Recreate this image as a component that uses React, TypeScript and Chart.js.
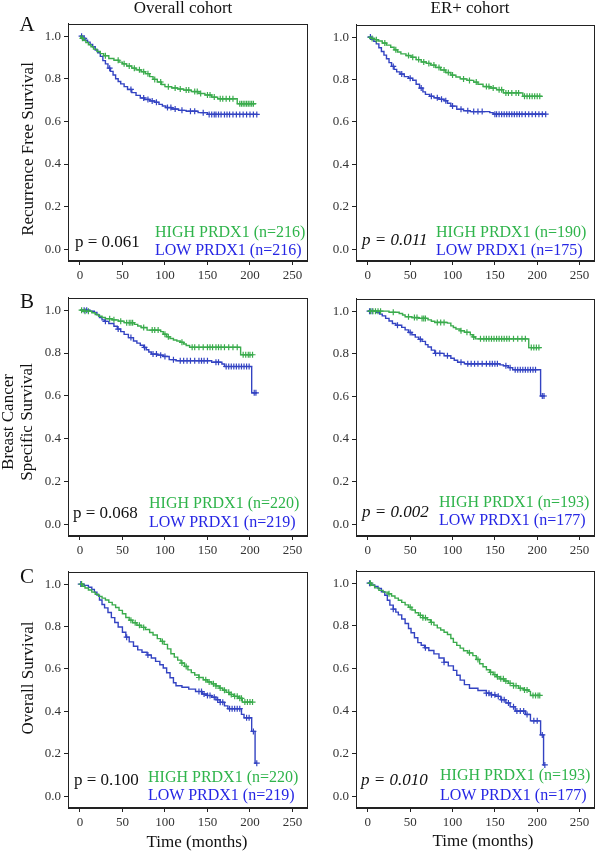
import React, { useEffect, useRef } from 'react';
import { Chart, registerables } from 'chart.js';
Chart.register(...registerables);

// ---------- axes ----------
const X_TICKS = [0, 50, 100, 150, 200, 250];
const Y_TICKS = [0, 0.2, 0.4, 0.6, 0.8, 1.0];
const X_MIN = -14;
const X_MAX = 268;
const Y_MIN = -0.055;
const Y_MAX = 1.058;

// ---------- labels ----------
const COLUMN_TITLES = ['Overall cohort', 'ER+ cohort'];
const ROW_LETTERS = ['A', 'B', 'C'];
const X_TITLE = 'Time (months)';
const P_VALUES = [['p = 0.061', 'p = 0.011'], ['p = 0.068', 'p = 0.002'], ['p = 0.100', 'p = 0.010']];
const HIGH_LABELS = [['HIGH PRDX1 (n=216)', 'HIGH PRDX1 (n=190)'], ['HIGH PRDX1 (n=220)', 'HIGH PRDX1 (n=193)'], ['HIGH PRDX1 (n=220)', 'HIGH PRDX1 (n=193)']];
const LOW_LABELS = [['LOW PRDX1 (n=216)', 'LOW PRDX1 (n=175)'], ['LOW PRDX1 (n=219)', 'LOW PRDX1 (n=177)'], ['LOW PRDX1 (n=219)', 'LOW PRDX1 (n=177)']];

// ---------- A: Recurrence free survival, overall ----------
const RFS_ALL_HIGH_T = [0, 1, 4, 7, 10, 13, 16, 20, 24, 28, 34, 40, 46, 50, 55, 61, 66, 72, 77, 82, 86, 91, 96, 100, 108, 115, 122, 131, 140, 147, 155, 162, 185, 207];
const RFS_ALL_HIGH_S = [1.0, 0.99, 0.98, 0.97, 0.96, 0.95, 0.939, 0.928, 0.918, 0.908, 0.895, 0.887, 0.878, 0.87, 0.86, 0.85, 0.842, 0.833, 0.824, 0.81, 0.797, 0.785, 0.773, 0.763, 0.757, 0.752, 0.747, 0.74, 0.731, 0.724, 0.714, 0.706, 0.683, 0.683];
const RFS_ALL_HIGH_C = [3, 30, 45, 52, 58, 64, 70, 75, 80, 88, 95, 104, 112, 118, 125, 128, 135, 138, 142, 150, 153, 158, 165, 168, 172, 176, 180, 188, 190, 192, 194, 196, 198, 200, 202, 204];
const RFS_ALL_LOW_T = [0, 3, 6, 9, 12, 15, 18, 21, 24, 27, 30, 33, 36, 39, 42, 45, 48, 52, 56, 61, 66, 71, 76, 82, 88, 93, 97, 101, 108, 116, 125, 139, 150, 209];
const RFS_ALL_LOW_S = [1.0, 0.99, 0.981, 0.972, 0.961, 0.95, 0.935, 0.922, 0.905, 0.885, 0.87, 0.85, 0.835, 0.818, 0.8, 0.787, 0.776, 0.763, 0.75, 0.735, 0.722, 0.71, 0.703, 0.696, 0.69, 0.68, 0.672, 0.665, 0.658, 0.652, 0.648, 0.641, 0.633, 0.633];
const RFS_ALL_LOW_C = [2, 5, 35, 60, 75, 80, 85, 90, 103, 107, 112, 120, 130, 135, 145, 152, 155, 158, 160, 163, 166, 170, 173, 176, 180, 184, 188, 192, 196, 200, 204, 208];

// ---------- A: Recurrence free survival, ER+ ----------
const RFS_ER_HIGH_T = [0, 3, 8, 12, 17, 22, 27, 31, 35, 39, 45, 51, 57, 63, 69, 74, 80, 86, 92, 98, 104, 109, 117, 125, 130, 136, 144, 152, 160, 183, 206];
const RFS_ER_HIGH_S = [1.0, 0.994, 0.988, 0.982, 0.972, 0.962, 0.952, 0.94, 0.93, 0.921, 0.913, 0.905, 0.894, 0.883, 0.876, 0.868, 0.857, 0.845, 0.833, 0.821, 0.812, 0.803, 0.796, 0.788, 0.778, 0.767, 0.76, 0.752, 0.737, 0.721, 0.721];
const RFS_ER_HIGH_C = [5, 10, 20, 33, 48, 53, 60, 66, 72, 78, 84, 90, 95, 100, 113, 120, 128, 140, 143, 148, 155, 158, 163, 166, 170, 175, 178, 185, 188, 191, 194, 197, 200, 203];
const RFS_ER_LOW_T = [0, 4, 7, 10, 13, 16, 19, 22, 25, 28, 31, 34, 38, 43, 48, 53, 57, 61, 65, 68, 73, 78, 84, 90, 94, 98, 105, 113, 121, 144, 148, 210];
const RFS_ER_LOW_S = [1.0, 0.99, 0.98, 0.968, 0.95, 0.932, 0.915, 0.898, 0.88, 0.862, 0.848, 0.836, 0.826, 0.814, 0.806, 0.797, 0.778, 0.76, 0.742, 0.73, 0.721, 0.714, 0.707, 0.7, 0.688, 0.675, 0.66, 0.653, 0.649, 0.644, 0.637, 0.637];
const RFS_ER_LOW_C = [3, 30, 40, 50, 63, 75, 82, 87, 92, 100, 110, 118, 125, 130, 135, 150, 152, 155, 158, 161, 164, 167, 170, 173, 176, 179, 182, 186, 190, 194, 198, 202, 206, 210];

// ---------- B: Breast cancer specific survival, overall ----------
const BCSS_ALL_HIGH_T = [0, 5, 14, 18, 22, 26, 30, 38, 45, 52, 64, 68, 72, 79, 95, 98, 102, 106, 110, 114, 118, 122, 125, 129, 189, 204];
const BCSS_ALL_HIGH_S = [1.0, 0.995, 0.988, 0.98, 0.972, 0.966, 0.96, 0.955, 0.949, 0.942, 0.934, 0.926, 0.919, 0.907, 0.9, 0.888, 0.876, 0.868, 0.861, 0.856, 0.85, 0.842, 0.835, 0.827, 0.792, 0.792];
const BCSS_ALL_HIGH_C = [2, 6, 10, 35, 40, 48, 55, 58, 60, 62, 75, 85, 88, 92, 100, 104, 120, 132, 135, 140, 145, 150, 153, 156, 160, 163, 166, 170, 175, 180, 185, 192, 195, 198, 200, 203];
const BCSS_ALL_LOW_T = [0, 12, 17, 20, 23, 26, 29, 34, 40, 44, 48, 52, 57, 63, 67, 71, 75, 78, 81, 84, 91, 98, 105, 113, 155, 167, 170, 202, 208];
const BCSS_ALL_LOW_S = [1.0, 0.995, 0.989, 0.978, 0.966, 0.955, 0.948, 0.938, 0.925, 0.912, 0.9, 0.887, 0.872, 0.856, 0.846, 0.836, 0.826, 0.815, 0.805, 0.795, 0.79, 0.784, 0.769, 0.764, 0.757, 0.749, 0.737, 0.614, 0.614];
const BCSS_ALL_LOW_C = [5, 8, 30, 45, 60, 76, 86, 90, 95, 100, 110, 118, 122, 126, 130, 135, 140, 143, 146, 150, 160, 163, 172, 175, 178, 181, 184, 187, 190, 193, 196, 199, 205, 207];

// ---------- B: Breast cancer specific survival, ER+ ----------
const BCSS_ER_HIGH_T = [0, 25, 37, 41, 44, 52, 60, 71, 75, 79, 94, 98, 101, 104, 109, 114, 121, 124, 127, 190, 204];
const BCSS_ER_HIGH_S = [1.0, 0.995, 0.989, 0.982, 0.974, 0.97, 0.966, 0.959, 0.953, 0.947, 0.944, 0.931, 0.923, 0.916, 0.908, 0.901, 0.889, 0.879, 0.87, 0.829, 0.829];
const BCSS_ER_HIGH_C = [3, 6, 9, 12, 15, 30, 48, 55, 58, 64, 66, 68, 82, 86, 90, 110, 117, 125, 133, 137, 140, 143, 146, 149, 152, 155, 158, 161, 164, 167, 172, 177, 182, 186, 193, 196, 199, 202];
const BCSS_ER_LOW_T = [0, 10, 14, 17, 21, 25, 29, 33, 40, 44, 48, 52, 56, 60, 64, 68, 71, 75, 79, 90, 98, 102, 106, 114, 156, 160, 166, 171, 204, 209];
const BCSS_ER_LOW_S = [1.0, 0.993, 0.986, 0.978, 0.966, 0.954, 0.942, 0.934, 0.924, 0.912, 0.9, 0.889, 0.878, 0.868, 0.858, 0.843, 0.832, 0.817, 0.802, 0.791, 0.779, 0.77, 0.76, 0.753, 0.748, 0.744, 0.735, 0.725, 0.602, 0.602];
const BCSS_ER_LOW_C = [2, 5, 35, 50, 62, 80, 85, 94, 110, 118, 122, 126, 130, 135, 140, 144, 147, 150, 153, 163, 168, 174, 177, 180, 183, 186, 189, 192, 195, 198, 206, 208];

// ---------- C: Overall survival, overall ----------
const OS_ALL_HIGH_T = [0, 3, 6, 10, 14, 18, 22, 26, 30, 34, 38, 42, 46, 50, 54, 58, 62, 67, 72, 77, 82, 86, 91, 95, 99, 103, 107, 111, 115, 119, 123, 127, 131, 135, 140, 145, 150, 155, 160, 164, 168, 172, 176, 181, 186, 191, 203];
const OS_ALL_HIGH_S = [1.0, 0.99, 0.982, 0.972, 0.962, 0.952, 0.942, 0.934, 0.925, 0.914, 0.902, 0.89, 0.876, 0.86, 0.843, 0.83, 0.818, 0.806, 0.796, 0.786, 0.772, 0.76, 0.743, 0.73, 0.716, 0.695, 0.672, 0.656, 0.642, 0.628, 0.612, 0.596, 0.583, 0.572, 0.56, 0.549, 0.539, 0.53, 0.52, 0.51, 0.5, 0.49, 0.48, 0.471, 0.462, 0.444, 0.444];
const OS_ALL_HIGH_C = [2, 60, 65, 70, 75, 97, 120, 125, 140, 148, 152, 157, 160, 165, 170, 175, 178, 182, 185, 188, 190, 194, 197, 200, 203];
const OS_ALL_LOW_T = [0, 5, 10, 14, 17, 20, 23, 26, 29, 33, 37, 41, 45, 50, 54, 58, 63, 68, 73, 79, 84, 89, 94, 98, 102, 106, 110, 113, 120, 128, 136, 144, 150, 155, 160, 165, 170, 174, 190, 193, 202, 206, 208];
const OS_ALL_LOW_S = [1.0, 0.994, 0.985, 0.975, 0.962, 0.948, 0.925, 0.904, 0.888, 0.866, 0.842, 0.819, 0.798, 0.773, 0.75, 0.728, 0.707, 0.69, 0.679, 0.666, 0.652, 0.636, 0.62, 0.605, 0.582, 0.559, 0.535, 0.521, 0.514, 0.505, 0.494, 0.482, 0.475, 0.467, 0.455, 0.443, 0.426, 0.413, 0.386, 0.37, 0.306, 0.156, 0.156];
const OS_ALL_LOW_C = [1, 55, 80, 140, 143, 146, 150, 153, 158, 162, 165, 168, 176, 179, 182, 185, 188, 196, 199, 204, 208];

// ---------- C: Overall survival, ER+ ----------
const OS_ER_HIGH_T = [0, 4, 8, 13, 18, 24, 28, 32, 36, 40, 44, 48, 52, 56, 60, 65, 70, 74, 78, 82, 86, 90, 94, 98, 101, 105, 109, 113, 118, 124, 128, 132, 136, 140, 144, 148, 152, 156, 161, 166, 172, 178, 184, 190, 192, 203];
const OS_ER_HIGH_S = [1.0, 0.99, 0.978, 0.966, 0.958, 0.95, 0.94, 0.93, 0.92, 0.91, 0.898, 0.887, 0.874, 0.861, 0.849, 0.838, 0.828, 0.816, 0.803, 0.79, 0.78, 0.77, 0.759, 0.74, 0.722, 0.708, 0.695, 0.683, 0.673, 0.66, 0.642, 0.622, 0.608, 0.594, 0.582, 0.571, 0.561, 0.551, 0.541, 0.53, 0.519, 0.507, 0.499, 0.492, 0.473, 0.473];
const OS_ER_HIGH_C = [3, 25, 50, 62, 65, 68, 75, 120, 130, 145, 150, 153, 157, 160, 163, 168, 172, 175, 180, 185, 188, 195, 198, 201, 203];
const OS_ER_LOW_T = [0, 4, 8, 12, 16, 20, 23, 26, 30, 33, 36, 40, 44, 48, 51, 55, 59, 63, 67, 72, 78, 84, 90, 95, 101, 105, 109, 114, 120, 130, 140, 146, 151, 157, 163, 168, 174, 186, 192, 204, 207.5, 209];
const OS_ER_LOW_S = [1.0, 0.992, 0.984, 0.975, 0.96, 0.943, 0.92, 0.897, 0.878, 0.864, 0.851, 0.832, 0.811, 0.787, 0.767, 0.744, 0.721, 0.709, 0.697, 0.684, 0.668, 0.649, 0.629, 0.612, 0.591, 0.568, 0.545, 0.524, 0.507, 0.496, 0.484, 0.476, 0.469, 0.453, 0.438, 0.42, 0.4, 0.384, 0.354, 0.288, 0.147, 0.147];
const OS_ER_LOW_C = [2, 30, 68, 90, 140, 143, 146, 150, 154, 158, 161, 166, 172, 176, 180, 184, 188, 196, 200, 206, 209];

// ---------- colours & fonts ----------
const GREEN_LINE = '#3aab4c';
const BLUE_LINE = '#3343c2';
const GREEN_TEXT = '#2fb44b';
const BLUE_TEXT = '#2626e4';
const SERIF = "'Liberation Serif', 'DejaVu Serif', serif";

type Curve = { t: number[]; s: number[]; c: number[] };
type Box = { left: number; top: number; w: number; h: number };

const PANELS: { box: Box; high: Curve; low: Curve }[][] = [
  [
    { box: { left: 68, top: 19, w: 243, h: 242 }, high: { t: RFS_ALL_HIGH_T, s: RFS_ALL_HIGH_S, c: RFS_ALL_HIGH_C }, low: { t: RFS_ALL_LOW_T, s: RFS_ALL_LOW_S, c: RFS_ALL_LOW_C } },
    { box: { left: 356, top: 20, w: 242, h: 241 }, high: { t: RFS_ER_HIGH_T, s: RFS_ER_HIGH_S, c: RFS_ER_HIGH_C }, low: { t: RFS_ER_LOW_T, s: RFS_ER_LOW_S, c: RFS_ER_LOW_C } },
  ],
  [
    { box: { left: 68, top: 293, w: 243, h: 243 }, high: { t: BCSS_ALL_HIGH_T, s: BCSS_ALL_HIGH_S, c: BCSS_ALL_HIGH_C }, low: { t: BCSS_ALL_LOW_T, s: BCSS_ALL_LOW_S, c: BCSS_ALL_LOW_C } },
    { box: { left: 356, top: 294, w: 242, h: 242 }, high: { t: BCSS_ER_HIGH_T, s: BCSS_ER_HIGH_S, c: BCSS_ER_HIGH_C }, low: { t: BCSS_ER_LOW_T, s: BCSS_ER_LOW_S, c: BCSS_ER_LOW_C } },
  ],
  [
    { box: { left: 68, top: 567, w: 243, h: 241 }, high: { t: OS_ALL_HIGH_T, s: OS_ALL_HIGH_S, c: OS_ALL_HIGH_C }, low: { t: OS_ALL_LOW_T, s: OS_ALL_LOW_S, c: OS_ALL_LOW_C } },
    { box: { left: 356, top: 566, w: 242, h: 242 }, high: { t: OS_ER_HIGH_T, s: OS_ER_HIGH_S, c: OS_ER_HIGH_C }, low: { t: OS_ER_LOW_T, s: OS_ER_LOW_S, c: OS_ER_LOW_C } },
  ],
];

const Y_W = 45;
const PAD_T = 6;
const PAD_R = 2;
const X_H = 30;

function survAt(curve: Curve, time: number): number {
  let v = curve.s[0];
  for (let i = 0; i < curve.t.length; i++) {
    if (curve.t[i] <= time) v = curve.s[i];
    else break;
  }
  return v;
}

const boxPlugin = {
  id: 'boxFrame',
  afterDraw(chart: any) {
    const { ctx, chartArea } = chart;
    ctx.save();
    ctx.strokeStyle = '#222';
    ctx.lineWidth = 1;
    ctx.strokeRect(Math.round(chartArea.left) + 0.5, Math.round(chartArea.top) + 0.5, Math.round(chartArea.right - chartArea.left) - 1, Math.round(chartArea.bottom - chartArea.top) - 1);
    ctx.restore();
  },
};

function curveDatasets(curve: Curve, color: string) {
  return [
    {
      type: 'line' as const,
      data: curve.t.map((t, i) => ({ x: t, y: curve.s[i] })),
      borderColor: color,
      backgroundColor: color,
      borderWidth: 1.4,
      stepped: 'before' as const,
      pointRadius: 0,
      fill: false,
      tension: 0,
    },
    {
      type: 'scatter' as const,
      data: curve.c.map((t) => ({ x: t, y: survAt(curve, t) })),
      borderColor: color,
      backgroundColor: color,
      borderWidth: 1.2,
      pointStyle: 'cross' as const,
      pointRadius: 3,
      showLine: false,
    },
  ];
}

function Panel({ box, high, low }: { box: Box; high: Curve; low: Curve }) {
  const ref = useRef<HTMLCanvasElement>(null);
  const width = box.w + Y_W + PAD_R;
  const height = box.h + PAD_T + X_H;
  useEffect(() => {
    if (!ref.current) return;
    const tickFont = { family: SERIF, size: 13 };
    const chart = new Chart(ref.current, {
      type: 'line',
      data: { datasets: [...curveDatasets(high, GREEN_LINE), ...curveDatasets(low, BLUE_LINE)] as any },
      options: {
        responsive: false,
        animation: false,
        events: [],
        layout: { padding: { top: PAD_T, right: PAD_R, left: 0, bottom: 0 } },
        plugins: { legend: { display: false }, tooltip: { enabled: false }, title: { display: false } },
        scales: {
          x: {
            type: 'linear',
            min: X_MIN,
            max: X_MAX,
            afterBuildTicks: (s: any) => {
              s.ticks = X_TICKS.map((v) => ({ value: v }));
            },
            afterFit: (s: any) => {
              s.height = X_H;
            },
            ticks: { font: tickFont, color: '#333', padding: 3, maxRotation: 0, autoSkip: false, callback: (v: any) => String(v) },
            grid: { drawOnChartArea: false, drawTicks: true, tickLength: 4, color: '#222' },
            border: { display: true, color: '#222' },
          },
          y: {
            type: 'linear',
            min: Y_MIN,
            max: Y_MAX,
            afterBuildTicks: (s: any) => {
              s.ticks = Y_TICKS.map((v) => ({ value: v }));
            },
            afterFit: (s: any) => {
              s.width = Y_W;
            },
            ticks: { font: tickFont, color: '#333', padding: 3, autoSkip: false, callback: (v: any) => Number(v).toFixed(1) },
            grid: { drawOnChartArea: false, drawTicks: true, tickLength: 4, color: '#222' },
            border: { display: true, color: '#222' },
          },
        },
      } as any,
      plugins: [boxPlugin],
    });
    return () => chart.destroy();
  }, []);
  return (
    <canvas
      ref={ref}
      width={width}
      height={height}
      style={{ position: 'absolute', left: box.left - Y_W, top: box.top - PAD_T, width, height }}
    />
  );
}

function Txt({ x, y, children, size = 16, color = '#111', italic = false, center = false, rotate = false }: any) {
  return (
    <div
      style={{
        position: 'absolute',
        left: x,
        top: y,
        transform: `translate(${center || rotate ? '-50%' : '0'}, -50%)${rotate ? ' rotate(-90deg)' : ''}`,
        fontFamily: SERIF,
        fontSize: size,
        fontStyle: italic ? 'italic' : 'normal',
        color,
        whiteSpace: 'nowrap',
        lineHeight: 1.1,
        textAlign: 'center',
      }}
    >
      {children}
    </div>
  );
}

// annotation anchors: [pLeft, pY, legendLeft, highY, lowY]
const ANNOT = [
  [[75, 242, 155, 232, 250], [362, 240, 436, 232, 250]],
  [[73, 513, 149, 503, 522], [362, 512, 439, 502, 520]],
  [[74, 780, 148, 777, 795], [361, 780, 440, 775, 795]],
];

export default function App() {
  return (
    <div style={{ position: 'absolute', left: 0, top: 0, width: 600, height: 851, background: '#fff', overflow: 'hidden' }}>
      {PANELS.map((row, r) => row.map((p, c) => <Panel key={`${r}-${c}`} box={p.box} high={p.high} low={p.low} />))}
      <Txt x={183} y={8} size={17} center>{COLUMN_TITLES[0]}</Txt>
      <Txt x={470} y={8} size={17} center>{COLUMN_TITLES[1]}</Txt>
      <Txt x={27} y={25} size={21} center>{ROW_LETTERS[0]}</Txt>
      <Txt x={27} y={302} size={21} center>{ROW_LETTERS[1]}</Txt>
      <Txt x={27} y={577} size={21} center>{ROW_LETTERS[2]}</Txt>
      <Txt x={28} y={149} size={17} rotate>Recurrence Free Survival</Txt>
      <Txt x={18} y={422} size={17} rotate>Breast Cancer<br />Specific Survival</Txt>
      <Txt x={28} y={678} size={17} rotate>Overall Survival</Txt>
      <Txt x={197} y={842} size={17} center>{X_TITLE}</Txt>
      <Txt x={483} y={841} size={17} center>{X_TITLE}</Txt>
      {ANNOT.map((row, r) =>
        row.map((a, c) => (
          <React.Fragment key={`a-${r}-${c}`}>
            <Txt x={a[0]} y={a[1]} size={17} italic={c === 1}>{P_VALUES[r][c]}</Txt>
            <Txt x={a[2]} y={a[3]} size={16} color={GREEN_TEXT}>{HIGH_LABELS[r][c]}</Txt>
            <Txt x={a[2]} y={a[4]} size={16} color={BLUE_TEXT}>{LOW_LABELS[r][c]}</Txt>
          </React.Fragment>
        ))
      )}
    </div>
  );
}
